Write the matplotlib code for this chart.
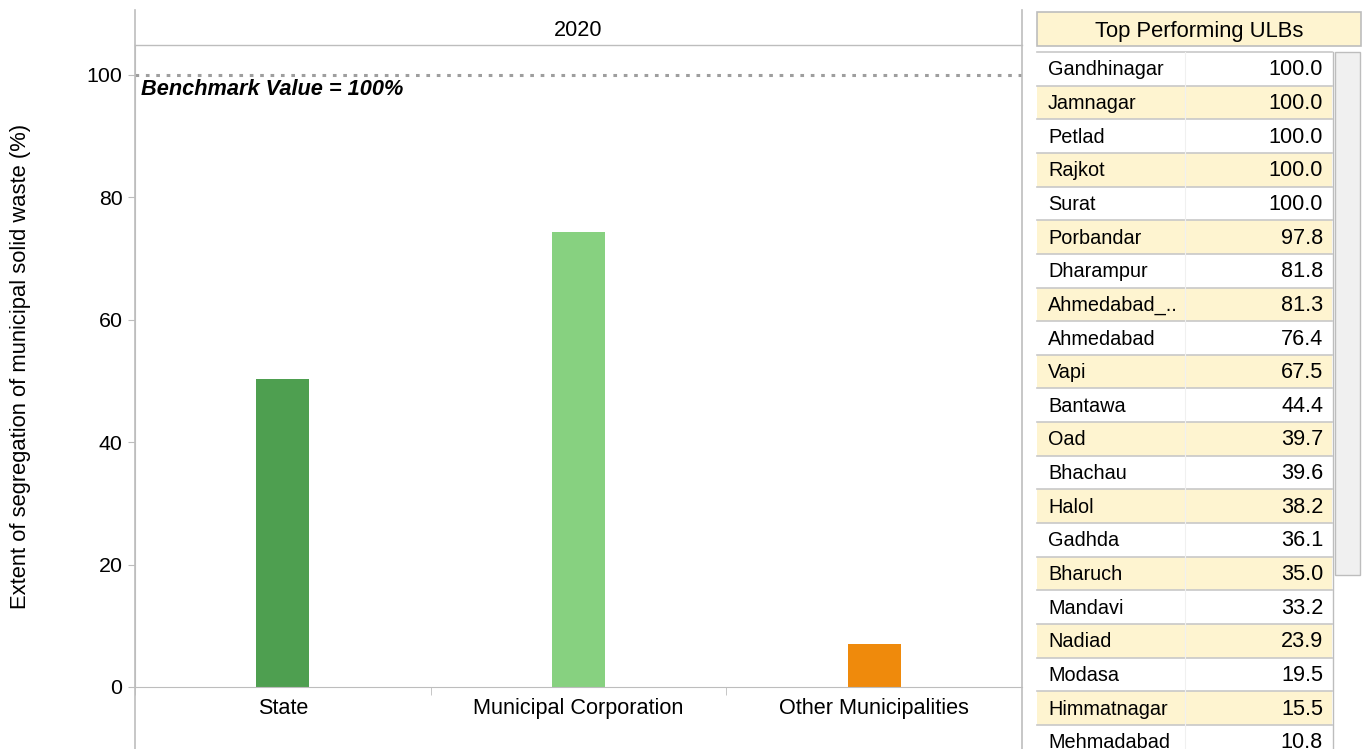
import matplotlib
matplotlib.use("Agg")
import matplotlib.pyplot as plt
from matplotlib.patches import Rectangle

plt.rcParams['font.family'] = ['Liberation Sans', 'DejaVu Sans']

# ---- data ----
categories = ["State", "Municipal Corporation", "Other Municipalities"]
values = [50.3, 74.4, 7.0]
bar_colors = ["#4E9F50", "#87D180", "#EF8A0C"]
year_label = "2020"
benchmark = 100
benchmark_text = "Benchmark Value = 100%"
y_ticks = [0, 20, 40, 60, 80, 100]
y_label = "Extent of segregation of municipal solid waste (%)"

table_title = "Top Performing ULBs"
ulb_names = ["Gandhinagar", "Jamnagar", "Petlad", "Rajkot", "Surat", "Porbandar",
             "Dharampur", "Ahmedabad_..", "Ahmedabad", "Vapi", "Bantawa", "Oad",
             "Bhachau", "Halol", "Gadhda", "Bharuch", "Mandavi", "Nadiad", "Modasa",
             "Himmatnagar", "Mehmadabad"]
ulb_values = [100.0, 100.0, 100.0, 100.0, 100.0, 97.8, 81.8, 81.3, 76.4, 67.5, 44.4,
              39.7, 39.6, 38.2, 36.1, 35.0, 33.2, 23.9, 19.5, 15.5, 10.8]

W, H = 1365, 749
fig = plt.figure(figsize=(W / 100, H / 100), dpi=100)

def fx(px):
    return px / W

def fy(py):
    return 1 - py / H

grey = "#BDBDBD"
FS = 15.6

# ---- main axes ----
ax_l, ax_r, ax_top, ax_bot = 135, 1022, 45, 687
ax = fig.add_axes([fx(ax_l), fy(ax_bot), fx(ax_r - ax_l), (ax_bot - ax_top) / H])
ymax = (ax_bot - ax_top) / ((ax_bot - 75) / 100.0)
ax.set_ylim(0, ymax)
ax.set_xlim(-0.5, len(categories) - 0.5)
x = list(range(len(categories)))
ax.bar(x, values, width=0.18, color=bar_colors, zorder=2)
ax.axhline(benchmark, color="#9E9E9E", linestyle=(0, (1.2, 2.2)), linewidth=2.2, zorder=3)
ax.text(-0.48, benchmark - 0.6, benchmark_text, fontsize=15.7, fontweight="bold",
        fontstyle="italic", va="top", ha="left")

for s in ["right", "top"]:
    ax.spines[s].set_visible(False)
ax.spines["left"].set_color(grey)
ax.spines["bottom"].set_color(grey)
ax.set_yticks(y_ticks)
ax.set_yticklabels([str(t) for t in y_ticks], fontsize=15.4)
ax.tick_params(axis="y", length=5, color=grey, pad=4)
ax.set_xticks(x)
ax.set_xticklabels(categories, fontsize=FS)
ax.tick_params(axis="x", which="major", length=0, pad=8)
ax.set_xticks([-0.5, 0.5, 1.5], minor=True)
ax.tick_params(axis="x", which="minor", length=6, color=grey)
ax.set_ylabel(y_label, fontsize=15.8)
ax.yaxis.set_label_coords(-0.117, 0.5)

# ---- overlay (pixel coordinates) for frame lines and table ----
ov = fig.add_axes([0, 0, 1, 1], facecolor="none")
ov.set_xlim(0, W)
ov.set_ylim(H, 0)
ov.axis("off")

ov.plot([ax_l, ax_l], [10, H], color=grey, lw=1.2)
ov.plot([ax_r, ax_r], [10, H], color=grey, lw=1.2)
ov.plot([ax_l, ax_r], [45, 45], color=grey, lw=1.0)
ov.text((ax_l + ax_r) / 2, 30.5, year_label, fontsize=FS, ha="center", va="center")

cream = "#FEF4D0"
# header
ov.add_patch(Rectangle((1037, 12), 324, 34, facecolor=cream, edgecolor=grey, lw=1.2))
ov.text(1199, 31, table_title, fontsize=15.8, ha="center", va="center")

row_top = 52
row_h = 33.65
tbl_l, tbl_r = 1037, 1332
for i, (name, val) in enumerate(zip(ulb_names, ulb_values)):
    y0 = row_top + i * row_h
    if i % 2 == 1:
        ov.add_patch(Rectangle((tbl_l, y0), tbl_r - tbl_l, row_h, facecolor=cream,
                               edgecolor="none"))
    ov.plot([tbl_l, tbl_r], [y0 + row_h, y0 + row_h], color="#C8C8C8", lw=1.2)
    ov.text(1048, y0 + row_h / 2 + 1, name, fontsize=14.3, ha="left", va="center")
    ov.text(1323, y0 + row_h / 2 + 1, f"{val:.1f}", fontsize=FS, ha="right", va="center")
ov.plot([tbl_l, tbl_r], [row_top, row_top], color="#C8C8C8", lw=1.2)
ov.plot([1185, 1185], [row_top, H], color="#F0F0F0", lw=0.8)
ov.plot([tbl_r + 1, tbl_r + 1], [row_top, H], color=grey, lw=1.0)
# scrollbar
ov.add_patch(Rectangle((1335, 52), 25, 523, facecolor="#F0F0F0", edgecolor=grey, lw=1.0))

fig.savefig("out.png", dpi=100)
